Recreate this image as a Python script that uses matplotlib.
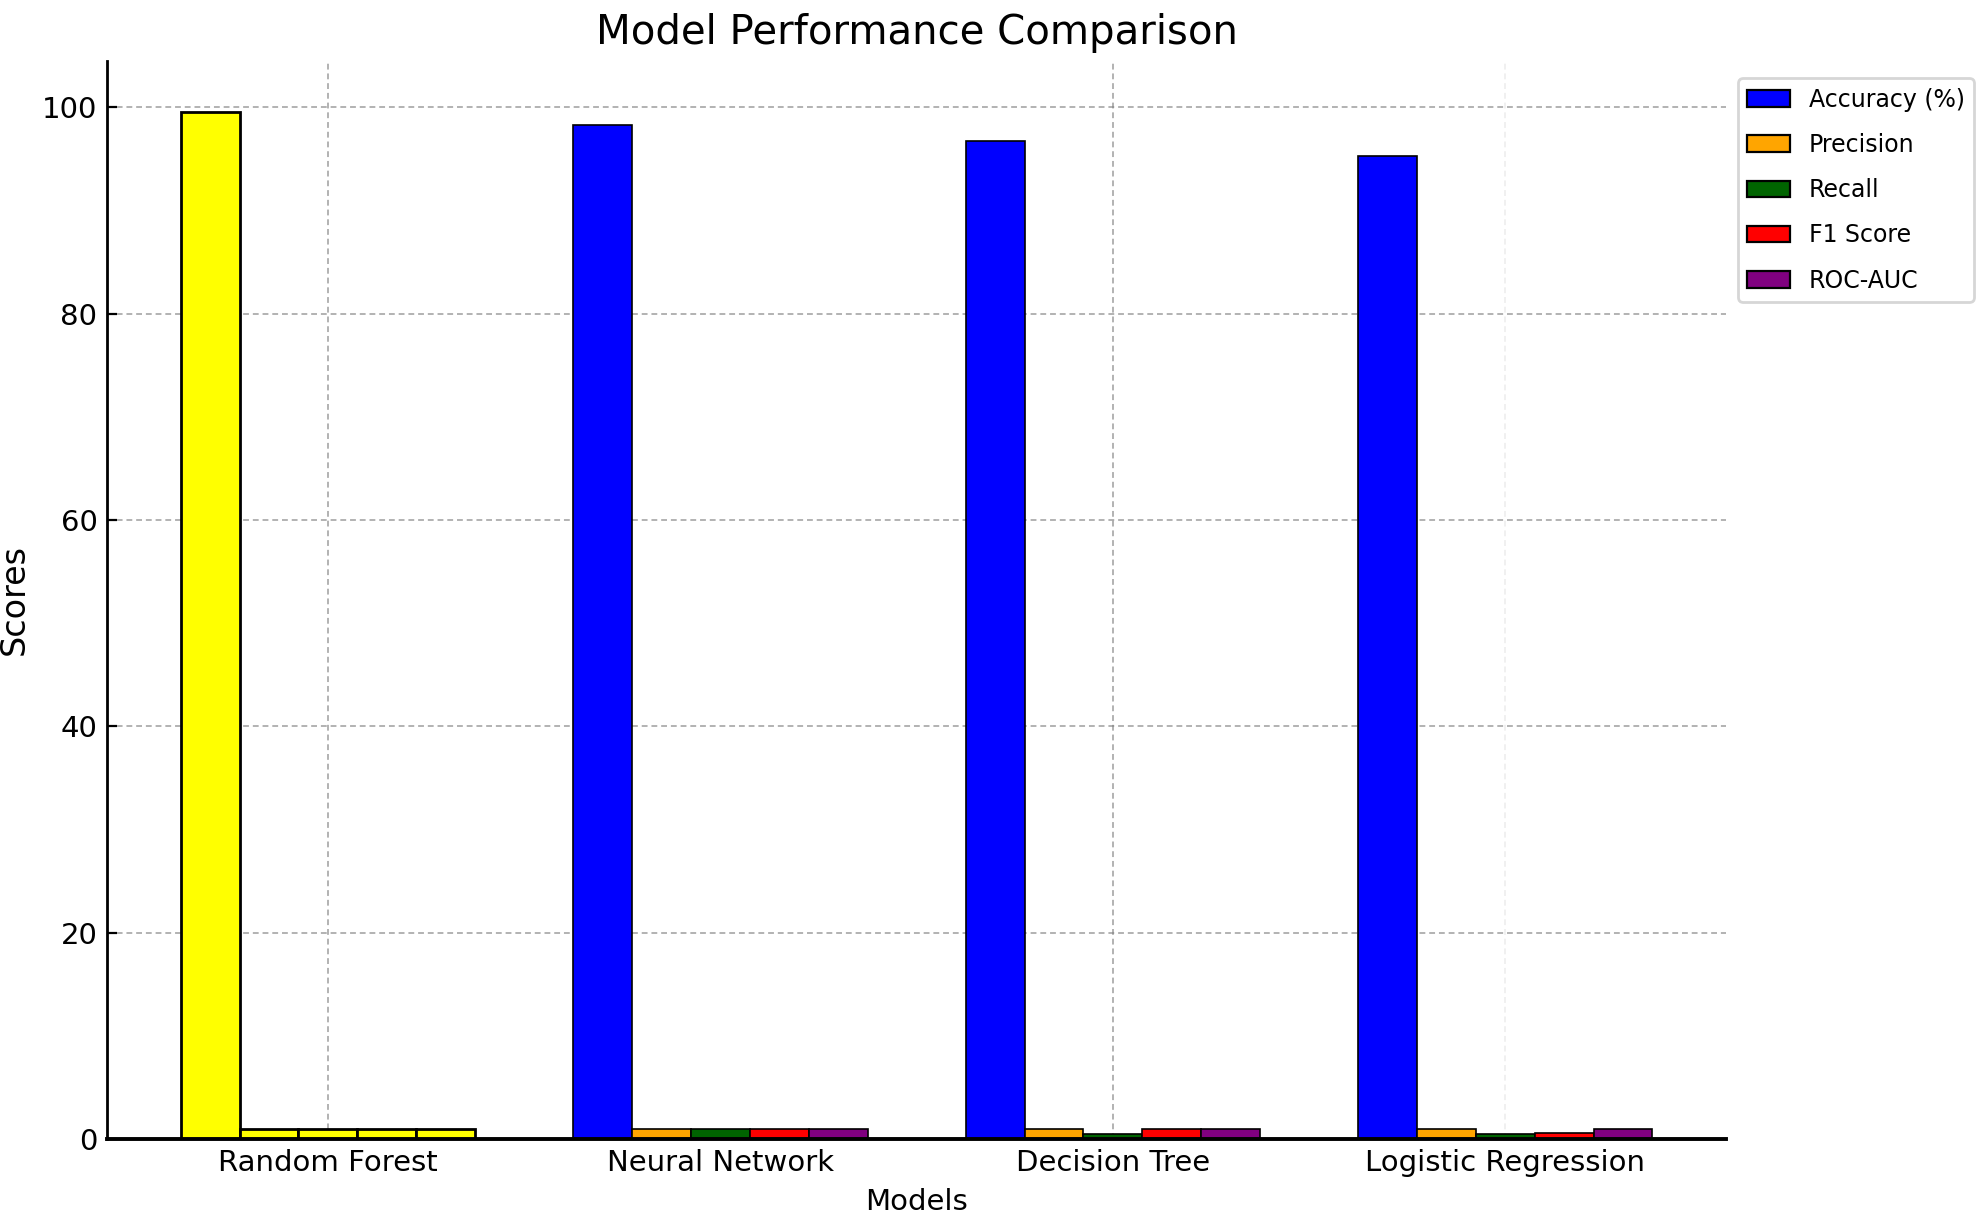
import matplotlib
matplotlib.use("Agg")
import matplotlib.pyplot as plt
from matplotlib.patches import Patch
import numpy as np

models = ["Random Forest", "Neural Network", "Decision Tree", "Logistic Regression"]
metrics = ["Accuracy (%)", "Precision", "Recall", "F1 Score", "ROC-AUC"]
accuracy = [99.5, 98.3, 96.7, 95.3]
precision = [0.99, 0.97, 0.95, 0.95]
recall = [0.99, 0.97, 0.50, 0.50]
f1_score = [0.99, 0.97, 0.95, 0.55]
roc_auc = [0.99, 0.97, 0.95, 0.95]
series = [accuracy, precision, recall, f1_score, roc_auc]
colors = ["blue", "orange", "darkgreen", "red", "purple"]
highlight_model = "Random Forest"

plt.rcParams['font.family'] = ['DejaVu Sans']
fig = plt.figure(figsize=(9.92, 6.16), dpi=200)
ax = fig.add_axes([0.054, 0.0755, 0.816, 0.875])

x = np.arange(len(models))
width = 0.15
for i, (vals, name, col) in enumerate(zip(series, metrics, colors)):
    offs = (i - 2) * width
    bars = ax.bar(x + offs, vals, width, color=col, edgecolor="black",
                  linewidth=0.6)
    for j, b in enumerate(bars):
        if models[j] == highlight_model:
            b.set_facecolor("yellow")
            b.set_linewidth(1.0)

ax.set_xticks(x)
ax.set_xticklabels(models, fontsize=10.5)
ax.tick_params(axis='y', labelsize=10.5, direction='in')
ax.tick_params(axis='x', direction='in', length=0)
ax.set_xlabel("Models", fontsize=10.5)
ax.set_ylabel("Scores", fontsize=12)
ax.set_title("Model Performance Comparison", fontsize=14.5)

ax.set_axisbelow(True)
ax.grid(True, linestyle=(0, (3, 2)), color='gray', alpha=0.6, linewidth=0.7)
xgl = ax.get_xgridlines()
xgl[1].set_visible(False)
xgl[3].set_alpha(0.12)

for s in ["top", "right"]:
    ax.spines[s].set_visible(False)
ax.spines["left"].set_linewidth(1.0)
ax.spines["bottom"].set_linewidth(1.4)

handles = [Patch(facecolor=c, edgecolor="black", linewidth=0.8, label=m)
           for c, m in zip(colors, metrics)]
ax.legend(handles=handles, loc="upper left", bbox_to_anchor=(1.0, 0.995),
          fontsize=8.5, borderaxespad=0.5, handlelength=1.8,
          labelspacing=0.9)

fig.savefig("out.png", dpi=200)
